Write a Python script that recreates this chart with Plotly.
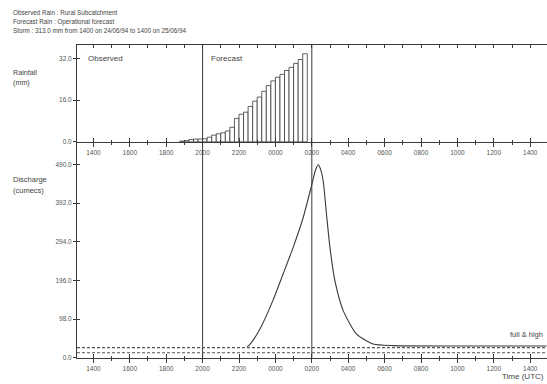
import plotly.graph_objects as go

W, H = 547, 384

# ---------------- data ----------------
header_lines = [
    "Observed Rain : Rural Subcatchment",
    "Forecast Rain : Operational forecast",
    "Storm : 313.0 mm from 1400 on 24/06/94 to 1400 on 25/06/94",
]
tick_labels = ["1400", "1600", "1800", "2000", "2200", "0000", "0200",
               "0400", "0600", "0800", "1000", "1200", "1400"]

# observed rainfall (15-min totals, mm), start times
obs_times = ["1845", "1900", "1915", "1930", "1945"]
obs_rain = [0.3, 0.5, 0.9, 1.1, 1.1]

# forecast rainfall (15-min totals, mm), start times
fc_times = ["2000", "2015", "2030", "2045", "2100", "2115", "2130", "2145",
            "2200", "2215", "2230", "2245", "2300", "2315", "2330", "2345",
            "0000", "0015", "0030", "0045", "0100", "0115", "0130"]
fc_rain = [1.2, 1.8, 2.6, 3.1, 3.5, 4.2, 5.6, 9.0, 10.6, 11.4, 13.6, 15.6,
           17.2, 19.4, 21.6, 23.4, 24.8, 25.9, 27.4, 28.6, 30.1, 31.6, 33.8]

# discharge (hours after 1400 on 24/06, cumecs)
q_hours = [8.45, 8.6, 9.15, 9.86, 10.41, 10.96, 11.51, 11.99, 12.2, 12.35,
           12.5, 12.63, 12.81, 13.0, 13.27, 13.73, 14.46, 15.37, 16.5, 20.0, 24.9]
q_vals = [28, 34, 73, 145, 211, 278, 353, 437, 475, 489,
          475, 446, 362, 278, 195, 119, 60, 35, 31, 30, 30]

thresholds = [26, 13]          # full, high (cumecs)
forecast_start = "2000"
time_now = "0200"

rain_ticks = [0, 16, 32]
q_ticks = [0, 98, 196, 294, 392, 490]

# ---------------- helpers ----------------
def hrs(hhmm):
    h = int(hhmm[:2]) + int(hhmm[2:]) / 60.0
    return (h - 14) % 24

def px(x):
    return x / W

def py(y):
    return 1 - y / H

INK = "#3a3a3a"
FONT = "Liberation Sans"
XR = [-0.9, 24.92]
XDOM = [px(77), 1.0]
YDOM_TOP = [py(143), py(45)]
YDOM_BOT = [py(360.7), py(143)]

major = [2 * i for i in range(len(tick_labels))]
minor_v = [2 * i + 1 for i in range(len(tick_labels) - 1)]
hourly = list(range(0, 25))

fig = go.Figure()

fig.add_trace(go.Bar(
    x=[hrs(t) + 0.125 for t in obs_times], y=obs_rain, width=0.25,
    marker=dict(color="white", line=dict(color=INK, width=0.8)),
    xaxis="x", yaxis="y", showlegend=False, hoverinfo="skip"))
fig.add_trace(go.Bar(
    x=[hrs(t) + 0.125 for t in fc_times], y=fc_rain, width=0.25,
    marker=dict(color="white", line=dict(color=INK, width=0.8)),
    xaxis="x", yaxis="y", showlegend=False, hoverinfo="skip"))

fig.add_trace(go.Scatter(
    x=q_hours, y=q_vals, mode="lines", line=dict(color=INK, width=1.1, shape="spline", smoothing=0.6),
    xaxis="x2", yaxis="y2", showlegend=False, hoverinfo="skip"))

# dummy traces to realise overlay axes
for xa, ya in [("x3", "y"), ("x4", "y"), ("x", "y3"), ("x5", "y2"), ("x2", "y4")]:
    fig.add_trace(go.Scatter(x=[None], y=[None], xaxis=xa, yaxis=ya,
                             showlegend=False, hoverinfo="skip"))

tickfont = dict(family=FONT, size=6.5, color="#555")
common_x = dict(domain=XDOM, range=XR, showgrid=False, zeroline=False, fixedrange=True)

fig.update_layout(
    width=W, height=H, margin=dict(l=0, r=0, t=0, b=0),
    paper_bgcolor="white", plot_bgcolor="rgba(0,0,0,0)", barmode="overlay",
    xaxis=dict(**common_x, anchor="y", showline=True, linecolor=INK, linewidth=1,
               tickmode="array", tickvals=major, ticktext=tick_labels,
               ticks="outside", ticklen=4, tickcolor=INK, tickfont=tickfont,
               minor=dict(tickvals=minor_v, ticks="outside", ticklen=2, tickcolor=INK)),
    xaxis3=dict(**common_x, anchor="y", overlaying="x", showline=False,
                tickmode="array", tickvals=major, ticks="inside", ticklen=4,
                tickcolor=INK, showticklabels=False,
                minor=dict(tickvals=minor_v, ticks="inside", ticklen=2, tickcolor=INK)),
    xaxis4=dict(**common_x, anchor="y", overlaying="x", side="top", showline=True,
                linecolor=INK, linewidth=1, tickmode="array", tickvals=hourly,
                ticks="inside", ticklen=3, tickcolor=INK, showticklabels=False),
    xaxis2=dict(**common_x, anchor="y2", showline=True, linecolor=INK, linewidth=1,
                tickmode="array", tickvals=major, ticktext=tick_labels,
                ticks="outside", ticklen=4, tickcolor=INK, tickfont=tickfont,
                minor=dict(tickvals=minor_v, ticks="outside", ticklen=2, tickcolor=INK)),
    xaxis5=dict(**common_x, anchor="y2", overlaying="x2", showline=False,
                tickmode="array", tickvals=major, ticks="inside", ticklen=4,
                tickcolor=INK, showticklabels=False,
                minor=dict(tickvals=minor_v, ticks="inside", ticklen=2, tickcolor=INK)),
    yaxis=dict(domain=YDOM_TOP, range=[0, 37.3], anchor="x", showline=True,
               linecolor=INK, linewidth=1, showgrid=False, zeroline=False,
               tickmode="array", tickvals=rain_ticks,
               ticktext=[f"{v:.1f}" for v in rain_ticks],
               ticks="outside", ticklen=3, tickcolor=INK, tickfont=tickfont, fixedrange=True),
    yaxis3=dict(domain=YDOM_TOP, range=[0, 37.3], anchor="x", overlaying="y",
                showline=False, showgrid=False, zeroline=False,
                tickmode="array", tickvals=rain_ticks, ticks="inside", ticklen=3,
                tickcolor=INK, showticklabels=False, fixedrange=True),
    yaxis2=dict(domain=YDOM_BOT, range=[0, 547], anchor="x2", showline=True,
                linecolor=INK, linewidth=1, showgrid=False, zeroline=False,
                tickmode="array", tickvals=q_ticks,
                ticktext=[f"{v:.1f}" for v in q_ticks],
                ticks="outside", ticklen=3, tickcolor=INK, tickfont=tickfont, fixedrange=True),
    yaxis4=dict(domain=YDOM_BOT, range=[0, 547], anchor="x2", overlaying="y2",
                showline=False, showgrid=False, zeroline=False,
                tickmode="array", tickvals=q_ticks, ticks="inside", ticklen=3,
                tickcolor=INK, showticklabels=False, fixedrange=True),
)

# vertical lines: forecast start and time now
for t in [forecast_start, time_now]:
    fig.add_shape(type="line", xref="x", yref="paper", x0=hrs(t), x1=hrs(t),
                  y0=py(360.7), y1=py(45), line=dict(color=INK, width=1))

# threshold lines
for th in thresholds:
    fig.add_shape(type="line", xref="x2 domain", yref="y2", x0=0, x1=1, y0=th, y1=th,
                  line=dict(color="#555", width=1.1, dash="3px,2px"))

def note(text, x, y, size, xanchor="left"):
    fig.add_annotation(text=text, xref="paper", yref="paper", x=px(x), y=py(y),
                       xanchor=xanchor, yanchor="middle", showarrow=False,
                       font=dict(family=FONT, size=size, color="#444"))

for i, line in enumerate(header_lines):
    note(line, 11, 13 + 9 * i, 6.3)

note("Rainfall", 11, 73, 7.2)
note("(mm)", 11, 83, 7.2)
note("Discharge", 11, 181, 7.5)
note("(cumecs)", 11, 192, 7.5)
note("Observed", 86, 59, 8)
note("Forecast", 209, 59, 8)
note("full & high", 545, 337, 7.5, xanchor="right")
note("Time (UTC)", 546, 379, 8, xanchor="right")

fig.write_html("out.html", config={"displayModeBar": False},
               post_script="document.body.style.margin='0';document.body.style.overflow='hidden';")
